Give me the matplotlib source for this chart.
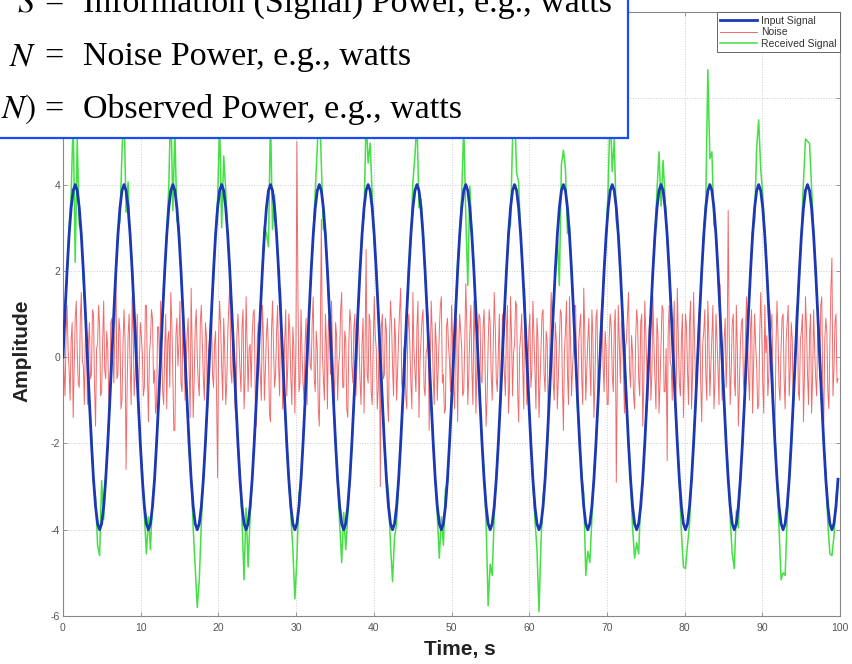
import numpy as np
import matplotlib
matplotlib.use("Agg")
import matplotlib.pyplot as plt
from matplotlib.patches import Rectangle

plt.rcParams['font.family'] = ['Liberation Sans', 'DejaVu Sans']
plt.rcParams['mathtext.fontset'] = 'stix'
plt.rcParams['axes.unicode_minus'] = False

# шаг по времени (24 отсчёта на период входного сигнала)
dt = 0.2618

# входной сигнал (синий)
input_signal = [
    0.0, 1.04, 2.0, 2.83, 3.46, 3.86, 4.0, 3.86, 3.46, 2.83, 2.0, 1.04, 0.0, -1.04, -2.0, -2.83, -3.46, -3.86, -4.0, -3.86, -3.46, -2.83, -2.0, -1.04,
    0.0, 1.04, 2.0, 2.83, 3.46, 3.86, 4.0, 3.86, 3.46, 2.83, 2.0, 1.04, 0.0, -1.04, -2.0, -2.83, -3.46, -3.86, -4.0, -3.86, -3.46, -2.83, -2.0, -1.04,
    0.0, 1.04, 2.0, 2.83, 3.46, 3.86, 4.0, 3.86, 3.46, 2.83, 2.0, 1.04, 0.0, -1.04, -2.0, -2.83, -3.46, -3.86, -4.0, -3.86, -3.46, -2.83, -2.0, -1.04,
    0.0, 1.04, 2.0, 2.83, 3.46, 3.86, 4.0, 3.86, 3.46, 2.83, 2.0, 1.04, 0.0, -1.04, -2.0, -2.83, -3.46, -3.86, -4.0, -3.86, -3.46, -2.83, -2.0, -1.04,
    0.0, 1.04, 2.0, 2.83, 3.46, 3.86, 4.0, 3.86, 3.46, 2.83, 2.0, 1.04, 0.0, -1.04, -2.0, -2.83, -3.46, -3.86, -4.0, -3.86, -3.46, -2.83, -2.0, -1.04,
    0.0, 1.04, 2.0, 2.83, 3.46, 3.86, 4.0, 3.86, 3.46, 2.83, 2.0, 1.04, 0.0, -1.04, -2.0, -2.83, -3.46, -3.86, -4.0, -3.86, -3.46, -2.83, -2.0, -1.04,
    0.0, 1.04, 2.0, 2.83, 3.46, 3.86, 4.0, 3.86, 3.46, 2.83, 2.0, 1.04, 0.0, -1.04, -2.0, -2.83, -3.46, -3.86, -4.0, -3.86, -3.46, -2.83, -2.0, -1.04,
    0.0, 1.04, 2.0, 2.83, 3.46, 3.86, 4.0, 3.86, 3.46, 2.83, 2.0, 1.04, 0.0, -1.04, -2.0, -2.83, -3.46, -3.86, -4.0, -3.86, -3.46, -2.83, -2.0, -1.04,
    0.0, 1.04, 2.0, 2.83, 3.46, 3.86, 4.0, 3.86, 3.46, 2.83, 2.0, 1.04, 0.0, -1.04, -2.0, -2.83, -3.46, -3.86, -4.0, -3.86, -3.46, -2.83, -2.0, -1.04,
    0.0, 1.04, 2.0, 2.83, 3.46, 3.86, 4.0, 3.86, 3.46, 2.83, 2.0, 1.04, 0.0, -1.04, -2.0, -2.83, -3.46, -3.86, -4.0, -3.86, -3.46, -2.83, -2.0, -1.04,
    0.0, 1.04, 2.0, 2.83, 3.46, 3.86, 4.0, 3.86, 3.46, 2.83, 2.0, 1.04, 0.0, -1.04, -2.0, -2.83, -3.46, -3.86, -4.0, -3.86, -3.46, -2.83, -2.0, -1.04,
    0.0, 1.04, 2.0, 2.83, 3.46, 3.86, 4.0, 3.86, 3.46, 2.83, 2.0, 1.04, 0.0, -1.04, -2.0, -2.83, -3.46, -3.86, -4.0, -3.86, -3.46, -2.83, -2.0, -1.04,
    0.0, 1.04, 2.0, 2.83, 3.46, 3.86, 4.0, 3.86, 3.46, 2.83, 2.0, 1.04, 0.0, -1.04, -2.0, -2.83, -3.46, -3.86, -4.0, -3.86, -3.46, -2.83, -2.0, -1.04,
    0.0, 1.04, 2.0, 2.83, 3.46, 3.86, 4.0, 3.86, 3.46, 2.83, 2.0, 1.04, 0.0, -1.04, -2.0, -2.83, -3.46, -3.86, -4.0, -3.86, -3.46, -2.83, -2.0, -1.04,
    0.0, 1.04, 2.0, 2.83, 3.46, 3.86, 4.0, 3.86, 3.46, 2.83, 2.0, 1.04, 0.0, -1.04, -2.0, -2.83, -3.46, -3.86, -4.0, -3.86, -3.46, -2.83, -2.0, -1.04,
    0.0, 1.04, 2.0, 2.83, 3.46, 3.86, 4.0, 3.86, 3.46, 2.83, 2.0, 1.04, 0.0, -1.04, -2.0, -2.83, -3.46, -3.86, -4.0, -3.86, -3.46, -2.83,
]

# отклонение принятого сигнала (зелёный) от входного
received_dev = [
    0.0, 0.1, -0.1, 0.2, 0.3, 1.7, -1.8, 1.2, -0.4, 0.1, -0.2, 0.0, 0.1, -0.1, 0.2, -0.1, 0.2, -0.5, -0.6, 1.0, -0.3, 0.1, -0.1, 0.0,
    0.1, -0.2, 0.0, 0.1, -0.3, 0.9, 1.8, -0.5, 0.6, -0.1, 0.2, 0.0, -0.1, 0.1, 0.0, 0.2, -0.2, -0.7, 0.3, -0.6, 0.2, 0.0, 0.1, -0.1,
    0.0, 0.2, -0.1, 0.1, 0.5, 2.1, -0.6, 1.4, -0.3, 0.2, 0.0, -0.1, 0.1, 0.0, -0.2, 0.1, -0.5, -1.0, -1.8, -1.3, -0.4, 0.1, 0.0, -0.1,
    0.1, 0.0, -0.2, 0.1, 0.2, 1.6, -1.0, 0.8, 0.4, -0.1, 0.1, 0.0, 0.2, -0.1, 0.0, 0.1, -0.3, -1.3, 0.5, -1.0, -0.2, 0.0, 0.1, 0.0,
    -0.1, 0.1, 0.0, 0.2, -0.6, -1.3, 1.6, -0.9, 0.3, 0.0, -0.1, 0.1, 0.0, 0.1, -0.2, 0.0, -0.2, -0.6, -1.6, -0.8, 0.3, -0.1, 0.0, 0.1,
    0.0, -0.1, 0.1, 0.0, 0.4, 1.0, 2.0, 0.6, -0.5, 0.1, 0.0, -0.2, 0.1, 0.0, 0.1, -0.1, -0.4, -0.9, 0.4, -0.6, -0.2, 0.1, -0.1, 0.0,
    0.1, 0.0, -0.1, 0.1, -0.2, 1.7, 0.5, 1.1, 0.3, -0.2, 0.1, 0.0, -0.1, 0.2, 0.0, 0.1, 0.3, -0.5, -1.2, -0.3, -0.4, 0.0, 0.1, -0.1,
    0.0, 0.1, 0.0, -0.1, 0.6, 0.8, 1.5, -0.4, 0.2, 0.1, -0.1, 0.0, 0.2, -0.1, 0.1, 0.0, -0.2, -0.8, 0.3, -0.5, 0.4, -0.1, 0.0, 0.1,
    -0.1, 0.0, 0.2, 0.0, 0.3, 1.5, -0.7, -2.2, 0.5, 0.0, 0.1, -0.1, 0.0, 0.1, -0.1, 0.2, -0.4, -1.9, -0.8, -1.2, -0.2, 0.1, 0.0, -0.1,
    0.1, -0.1, 0.0, 0.1, -0.4, 1.2, 1.8, 0.4, 0.6, -0.1, 0.0, 0.2, -0.1, 0.0, 0.1, -0.1, -0.3, -0.6, -1.9, -0.4, 0.2, 0.0, -0.1, 0.1,
    0.0, 0.1, -0.1, 0.0, -1.8, 0.6, 0.8, 0.5, -0.6, 0.2, -0.1, 0.0, 0.1, -0.2, 0.0, 0.1, 0.3, -1.2, -0.5, -0.9, -0.3, 0.1, 0.0, 0.0,
    0.1, 0.0, 0.1, -0.2, 0.5, 1.9, 0.3, 1.2, -0.3, 0.0, 0.1, -0.1, 0.0, 0.2, -0.1, 0.0, -0.5, -0.8, -0.3, -0.7, 0.2, -0.1, 0.1, 0.0,
    0.0, -0.1, 0.1, 0.0, 0.4, 0.9, -0.5, 0.7, 0.2, -0.1, 0.0, 0.1, -0.2, 0.0, 0.1, -0.1, -0.6, -1.0, -0.9, -0.5, -0.4, 0.0, 0.1, -0.1,
    0.1, 0.0, -0.1, 0.1, 0.2, 2.8, 0.6, 0.9, -0.4, 0.1, -0.1, 0.0, 0.1, 0.0, -0.1, 0.2, -0.3, -0.7, -0.9, 0.3, -0.5, 0.1, 0.0, 0.0,
    -0.1, 0.1, 0.0, 0.1, -0.3, 1.0, 1.5, 0.5, 0.3, 0.0, 0.1, -0.1, 0.0, 0.1, 0.2, -0.1, -0.5, -1.3, -1.0, -1.2, -0.3, 0.0, 0.1, -0.1,
    0.0, 0.1, -0.1, 0.0, 0.6, 1.2, 1.0, 1.1, 0.5, 0.1, -0.1, 0.0, 0.2, -0.1, 0.0, 0.1, -0.4, -0.7, -0.6, -0.3, 0.2, -0.1,
]

# шум (красный), вдвое чаще по времени
noise = [
    0.6, -0.3, -0.9, 0.5, 1.2, 0.2, -0.3, -1.0, 0.4, 0.8, -1.4, -0.2, 0.9, 1.3, 0.1, -0.6, -0.7, 0.9, 1.5, -0.1, -0.2, -1.1, 0.5, 0.7,
    -1.1, 0.3, 0.8, -0.5, -0.4, 1.1, 1.0, -0.7, -1.6, 0.2, 0.3, 1.2, 0.7, -0.9, -0.8, 0.4, 1.3, -0.3, -0.5, 0.6, 0.2, -1.0, -1.2, 0.8,
    0.9, 0.1, -0.6, 0.7, 2.0, -0.5, -0.4, 0.9, 0.6, -1.2, -1.0, 0.3, 1.1, 0.4, -2.6, -0.8, 0.5, 1.0, -0.2, -1.1, 1.4, 0.6, -0.9, -0.4,
    0.3, 1.0, -1.3, -0.2, 0.8, 0.5, 0.1, -0.9, -0.7, 1.2, 1.2, -0.4, -1.5, 0.1, 0.4, 1.1, 0.9, -0.6, -0.3, -1.3, -1.1, 0.7, 0.7, -0.2,
    1.3, 0.2, -0.8, -1.1, 0.2, 1.0, -1.2, 0.4, 0.6, -0.7, 1.5, 0.8, -0.4, -1.7, -1.7, 0.5, 0.9, -0.2, 0.3, 1.3, -0.6, -0.8, 1.1, 0.4,
    -1.0, -0.3, 0.5, 0.9, -0.3, -1.4, 1.6, 0.2, -1.4, -0.5, 0.7, 1.1, 0.0, -0.6, -0.9, 0.8, 1.2, 0.3, -0.5, -1.0, 0.8, 0.5, -1.3, 0.1,
    0.4, 0.9, 1.0, -0.4, -0.7, 0.3, 0.6, -0.9, -2.8, 0.4, 1.3, 0.7, -0.2, -1.0, 0.9, 0.2, -1.1, -0.6, 0.5, 1.2, 1.7, -0.3, -0.6, 0.6,
    0.2, -1.1, -1.4, 0.5, 1.0, 0.4, -0.3, -0.8, 0.7, 1.1, -1.2, -0.5, 1.4, 0.3, -0.8, 0.2, 0.3, -0.7, 0.5, 1.0, 1.1, -0.9, -1.6, 0.4,
    0.8, 0.1, -0.4, -1.0, 1.2, 0.5, -1.0, -0.3, 0.5, 0.9, 0.1, -1.3, -1.5, 0.6, 1.3, 0.2, -0.7, -0.4, 0.6, 1.2, -0.2, -0.9, 1.6, 0.5,
    -1.2, -0.6, 0.4, 1.1, -0.9, -0.2, 1.0, 0.6, -0.5, -1.1, 0.7, 0.2, -1.3, 0.3, 5.0, 1.4, -0.8, -0.6, 1.1, 0.1, -0.6, -1.0, 0.3, 0.9,
    -1.1, 0.4, 0.9, -0.2, -0.3, 0.8, 1.4, -0.5, -0.8, 0.6, 0.2, -1.2, -1.6, 0.5, 3.2, 0.1, -0.5, -1.0, 1.0, 0.3, -1.2, 0.9, 0.6, -0.4,
    1.3, 0.2, -0.4, -1.1, 0.8, 0.5, -1.0, -0.2, 0.1, 1.1, 1.5, -0.7, -0.7, 0.6, 0.4, -1.2, -1.4, 0.3, 1.1, 0.8, -0.2, -0.6, 0.7, 1.0,
    -0.9, -0.2, 1.2, 0.4, -0.5, -1.1, 0.3, 0.9, -1.3, 0.2, 2.5, -0.4, -0.6, 1.0, 0.8, -0.8, -1.1, 0.3, 1.4, 0.5, 0.2, -1.2, -0.7, 0.6,
    -3.0, 0.7, 1.0, -0.5, -0.4, 0.9, 0.6, -1.0, -1.5, 0.4, 1.3, 0.8, -0.2, -0.9, 0.9, 0.4, -1.0, -0.3, 0.5, 1.1, 1.6, -0.6, -0.8, 0.2,
    0.3, -0.9, -1.2, 0.6, 1.0, 0.3, -0.6, -1.2, 1.5, 0.2, -0.3, -0.8, 0.7, 1.3, -1.4, -0.1, 0.4, 0.9, 1.1, -0.7, -0.9, 0.1, 0.2, 1.0,
    -1.7, -0.3, 1.3, 0.6, -0.5, -1.1, 0.8, 0.3, -1.0, -0.2, 0.6, 1.2, 1.4, -0.6, -0.4, -1.3, -1.2, 0.7, 0.9, 0.3, -0.1, -0.8, 1.2, 0.4,
    -0.7, -1.2, 0.5, 0.9, -1.5, 0.1, 1.0, 0.6, 0.2, -0.9, -0.8, 0.3, 1.7, 0.8, -1.1, -0.4, 0.6, 1.2, -0.3, -1.1, 1.3, 0.4, -1.3, -0.2,
    0.4, 1.0, 0.9, -0.5, -0.6, 0.7, 1.1, -0.3, -1.6, -0.9, 0.3, 1.1, 0.8, -0.4, -1.0, 0.2, 1.5, 0.7, -0.5, -0.8, 0.1, 1.0, -1.2, -0.6,
    1.0, 0.3, -0.4, -0.9, 0.7, 1.2, -1.3, -0.7, 1.4, 0.5, -0.9, 0.1, 0.3, 1.3, 1.2, -0.8, -1.5, 0.2, 0.5, 1.0, -0.2, -1.2, 1.6, 0.4,
    -1.1, -0.5, 0.6, 1.0, -0.7, -0.3, 1.3, 0.5, -0.3, -1.2, 0.9, 0.4, -1.4, -0.6, 0.2, 1.0, 1.1, -0.4, -0.8, 0.6, 0.4, -1.3, -1.0, 0.7,
    1.5, 0.7, -0.6, -1.0, 0.8, 0.4, -1.2, -0.5, 0.3, 1.1, 1.0, -0.6, -1.7, 0.1, 0.6, 1.3, -0.4, -1.1, 1.4, 0.4, -0.9, -0.2, 0.2, 1.2,
    1.2, -0.5, -1.3, 0.3, 0.7, 1.0, -0.5, -1.1, 1.6, 0.6, -1.0, -0.3, 0.4, 0.9, -0.2, -0.9, 1.1, 0.5, -1.4, -0.6, 0.9, 1.1, -0.7, -0.4,
    0.5, 1.0, 1.3, -0.2, -0.8, 0.6, 0.2, -1.1, -1.1, 0.4, 1.0, 0.7, -0.4, -0.8, 0.7, 1.1, -2.9, -0.5, 1.2, 0.3, -0.6, 0.8, 0.9, -0.3,
    -1.3, 0.2, 0.4, 1.0, 1.5, -0.3, -0.7, 0.5, 0.1, -0.9, -1.2, 0.4, 1.1, 0.8, -0.5, -0.9, 0.8, 1.0, -1.6, -0.7, 1.3, 0.6, -0.3, -1.0,
    0.6, 0.9, -1.0, -0.4, 1.4, 0.3, -0.5, -1.2, 0.9, 0.5, -1.3, -0.6, 0.3, 1.2, 1.1, -0.8, -0.8, 0.2, -2.4, 0.6, 1.2, -0.1, -0.2, -1.0,
    0.7, 1.3, -1.1, -0.6, 1.6, 0.4, -0.6, -0.9, 0.4, 1.0, -1.4, -0.3, 1.0, 0.7, -0.3, -1.1, 0.8, 1.3, -1.2, -0.4, 1.5, 0.3, -0.7, -0.5,
    0.2, 1.0, 1.1, -0.6, -1.5, 0.3, 0.6, 1.1, -0.4, -1.0, 1.3, 0.5, -0.9, -0.2, 0.5, 1.2, -1.2, -0.6, 1.0, 0.4, -0.3, -1.1, 1.7, 0.2,
    -1.0, -0.4, 0.4, 0.9, -0.7, 0.1, 3.4, 0.5, -1.1, -0.3, 0.8, 1.0, -0.5, -0.9, 1.2, 0.2, -1.6, -0.7, 0.3, 0.8, 0.9, -0.6, -0.8, 0.5,
    1.4, 0.4, -0.5, -1.0, 0.7, 1.1, -1.3, -0.2, 1.0, 0.3, -0.2, -1.2, -1.1, 0.5, 1.5, 0.6, -0.6, -1.3, 1.2, 0.1, 0.5, -0.9, -0.4, 1.1,
    0.6, 1.0, -0.4, -1.4, -1.7, 0.3, 1.3, 0.5, -0.7, -1.0, 0.2, 0.9, 1.0, -0.5, -1.2, 0.4, 0.8, 1.2, -0.9, -0.3, 0.8, 0.4, -1.2, -0.6,
    -0.3, 1.1, 1.2, -0.8, -1.0, 0.4, 0.6, 1.0, -1.5, -0.4, 1.4, 0.7, -0.4, -1.1, 0.5, 1.0, -1.3, -0.5, 1.1, 0.2, -0.5, -0.9, 0.7, 0.3,
    -0.5, 1.2, 1.4, -0.7, -1.5, 0.4, 0.9, 0.6, -0.8, -1.2, 0.3, 1.6, 2.3, -0.9, -0.3, 0.8, 1.0, -0.6, -0.5,
]

x_ticks = [0, 10, 20, 30, 40, 50, 60, 70, 80, 90, 100]
y_ticks = [-6, -4, -2, 0, 2, 4, 6, 8]

box_lines = [
    (r"$S$", "Information (Signal) Power, e.g., watts"),
    (r"$N$", "Noise Power, e.g., watts"),
    (r"$\left(S+N\right)$", "Observed Power, e.g., watts"),
]

inp = np.array(input_signal)
rec = inp + np.array(received_dev)
t = np.arange(len(inp)) * dt
t_noise = np.arange(len(noise)) * dt / 2

W, H = 852, 664
fig = plt.figure(figsize=(W / 100, H / 100), dpi=100)
ax = fig.add_axes([63 / W, 1 - 616 / H, 777 / W, 604 / H])

l_noise, = ax.plot(t_noise, noise, color='#ef4646', lw=0.7, alpha=0.8, zorder=2)
l_rec, = ax.plot(t, rec, color='#44e044', lw=1.1, zorder=3)
l_inp, = ax.plot(t, inp, color='#1d38b5', lw=2.0, zorder=4)

ax.set_xlim(0, 100)
ax.set_ylim(-6, 8)
ax.set_xticks(x_ticks)
ax.set_yticks(y_ticks)
ax.tick_params(direction='in', length=3, width=0.6, colors='#888',
               labelcolor='#555', labelsize=7.5, top=True, right=True)
ax.tick_params(axis='x', pad=5)
ax.tick_params(axis='y', pad=2)
ax.grid(True, ls=':', color='#cccccc', lw=0.7)
for s in ax.spines.values():
    s.set_color('#888')
    s.set_linewidth(0.8)

leg = ax.legend([l_inp, l_noise, l_rec],
                ['Input Signal', 'Noise', 'Received Signal'],
                loc='upper right', fontsize=7.5, fancybox=False,
                edgecolor='#666', framealpha=1, borderaxespad=0,
                labelspacing=0.15, borderpad=0.35, handlelength=3.5,
                handletextpad=0.4)
leg.get_frame().set_linewidth(0.7)
for txt in leg.get_texts():
    txt.set_color('#333')

fig.text(22 / W, 1 - 351 / H, 'Amplitude', rotation=90, ha='center',
         va='center', fontsize=15, fontweight='bold', color='#222')
fig.text(460 / W, 1 - 650 / H, 'Time, s', ha='center', va='center',
         fontsize=15, fontweight='bold', color='#222')

# белая рамка с подписями сверху
box = Rectangle((-0.01, 1 - 138 / H), 628 / W + 0.01, 138 / H + 0.01,
                transform=fig.transFigure, facecolor='white',
                edgecolor='#1a4cff', lw=1.6, zorder=10)
fig.patches.append(box)

baselines = [12, 65, 118]
for (lhs, rhs), yb in zip(box_lines, baselines):
    yy = 1 - yb / H
    fig.text(36 / W, yy, lhs, ha='right', va='baseline', fontsize=24.5,
             zorder=11)
    fig.text(44 / W, yy, '=', ha='left', va='baseline', fontsize=24.5,
             family='Liberation Serif', zorder=11)
    fig.text(83 / W, yy, rhs, ha='left', va='baseline', fontsize=24.5,
             family='Liberation Serif', zorder=11)

fig.savefig('out.png', dpi=100)
